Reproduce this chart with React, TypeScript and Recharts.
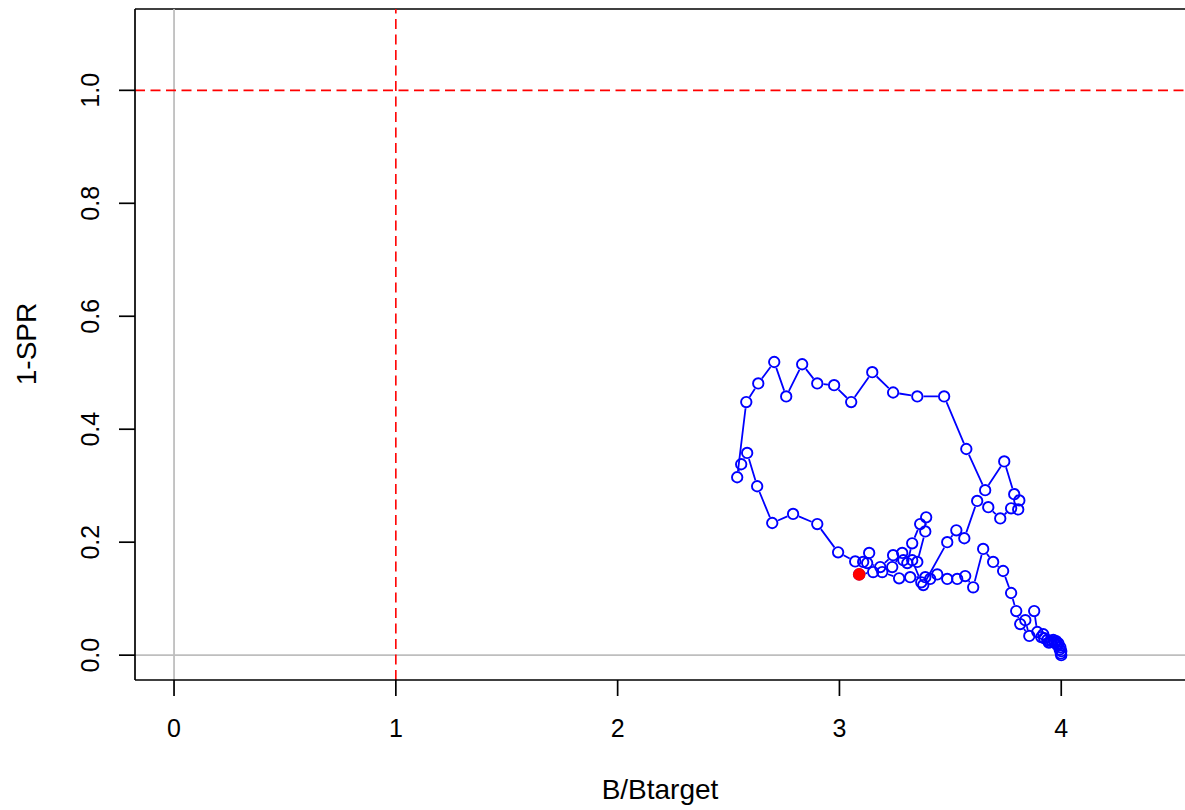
import React from "react";
import {
	ScatterChart,
	Scatter,
	XAxis,
	YAxis,
	ReferenceLine,
} from "recharts";

// trajectory in time order (last point is the red one)
const bRatio = [
	4.0, 4.0, 3.998, 3.996, 3.993, 3.987, 3.982, 3.977, 3.97, 3.964, 3.957, 3.95,
	3.944, 3.937, 3.923, 3.91, 3.919, 3.892, 3.878, 3.838, 3.856, 3.815, 3.797,
	3.774, 3.738, 3.693, 3.648, 3.603, 3.567, 3.531, 3.486, 3.441, 3.409, 3.378,
	3.486, 3.527, 3.563, 3.621, 3.671, 3.725, 3.774, 3.806, 3.811, 3.788, 3.743,
	3.657, 3.572, 3.472, 3.351, 3.242, 3.148, 3.053, 2.976, 2.9, 2.832, 2.76,
	2.706, 2.634, 2.58, 2.539, 2.557, 2.584, 2.629, 2.697, 2.791, 2.9, 2.994,
	3.071, 3.107, 3.134, 3.125, 3.184, 3.242, 3.238, 3.283, 3.288, 3.306, 3.328,
	3.364, 3.391, 3.387, 3.351, 3.328, 3.369, 3.387, 3.319, 3.269, 3.193, 3.152,
	3.089,
];
const oneMinusSpr = [
	0.0, 0.007, 0.003, 0.014, 0.01, 0.021, 0.018, 0.025, 0.022, 0.027, 0.025,
	0.023, 0.022, 0.027, 0.03, 0.032, 0.037, 0.041, 0.078, 0.062, 0.034, 0.055,
	0.078, 0.11, 0.149, 0.165, 0.188, 0.12, 0.14, 0.135, 0.135, 0.143, 0.135,
	0.124, 0.2, 0.221, 0.207, 0.273, 0.262, 0.242, 0.26, 0.258, 0.274, 0.285,
	0.343, 0.292, 0.365, 0.458, 0.458, 0.465, 0.501, 0.448, 0.478, 0.481, 0.515,
	0.458, 0.519, 0.481, 0.448, 0.315, 0.338, 0.358, 0.299, 0.234, 0.25, 0.232,
	0.182, 0.166, 0.165, 0.181, 0.163, 0.156, 0.177, 0.156, 0.181, 0.168, 0.163,
	0.198, 0.232, 0.244, 0.219, 0.165, 0.168, 0.129, 0.138, 0.138, 0.136, 0.147,
	0.147, 0.143,
];

const xTicks = [0, 1, 2, 3, 4];
const yTicks = [0, 0.2, 0.4, 0.6, 0.8, 1.0];
const xDomain = [-0.176, 4.576];
const yDomain = [-0.044, 1.144];

const points = bRatio.map((b, i) => ({ x: b, y: oneMinusSpr[i] }));
const lastPoint = [points[points.length - 1]];

const FONT = "'Liberation Sans', Arial, sans-serif";
const BLUE = "#0000FF";
const R = 5.2;

// R type="b": segments stop short of each circle
const GapLine = (props: any) => {
	const pts = props.points || [];
	const gap = R + 1;
	let d = "";
	for (let i = 0; i < pts.length - 1; i++) {
		const a = pts[i];
		const b = pts[i + 1];
		const dx = b.x - a.x;
		const dy = b.y - a.y;
		const len = Math.sqrt(dx * dx + dy * dy);
		if (len <= gap * 2) continue;
		const ux = dx / len;
		const uy = dy / len;
		d += `M${a.x + ux * gap},${a.y + uy * gap}L${b.x - ux * gap},${b.y - uy * gap}`;
	}
	return <path d={d} stroke={BLUE} strokeWidth={1.8} fill="none" />;
};

const OpenCircle = (props: any) => (
	<circle cx={props.cx} cy={props.cy} r={R} stroke={BLUE} strokeWidth={1.9} fill="none" />
);

const RedDot = (props: any) => (
	<circle cx={props.cx} cy={props.cy} r={6.3} fill="#FF0000" stroke="none" />
);

const XTick = (props: any) => (
	<text x={props.x} y={737} textAnchor="middle" fontFamily={FONT} fontSize={25} fill="#000">
		{props.payload.value}
	</text>
);

const YTick = (props: any) => (
	<text
		x={99}
		y={props.y}
		transform={`rotate(-90, 99, ${props.y})`}
		textAnchor="middle"
		fontFamily={FONT}
		fontSize={25}
		fill="#000"
	>
		{Number(props.payload.value).toFixed(1)}
	</text>
);

export default function App() {
	return (
		<div
			style={{
				position: "absolute",
				left: 0,
				top: 0,
				width: 1185,
				height: 810,
				overflow: "hidden",
				background: "#fff",
			}}
		>
			<ScatterChart
				width={1200}
				height={810}
				margin={{ top: 9, right: 11, bottom: 0, left: 0 }}
			>
				<XAxis
					type="number"
					dataKey="x"
					domain={xDomain}
					allowDataOverflow
					ticks={xTicks}
					tick={XTick}
					tickSize={16}
					height={130}
					axisLine={{ stroke: "#000", strokeWidth: 1.7 }}
					tickLine={{ stroke: "#000", strokeWidth: 1.7 }}
				/>
				<YAxis
					type="number"
					dataKey="y"
					domain={yDomain}
					allowDataOverflow
					ticks={yTicks}
					tick={YTick}
					tickSize={16}
					width={135}
					axisLine={{ stroke: "#000", strokeWidth: 1.7 }}
					tickLine={{ stroke: "#000", strokeWidth: 1.7 }}
				/>
				<ReferenceLine y={yDomain[1]} stroke="#000" strokeWidth={1.7} />
				<ReferenceLine x={0} stroke="#BEBEBE" strokeWidth={1.8} />
				<ReferenceLine y={0} stroke="#BEBEBE" strokeWidth={1.8} />
				<ReferenceLine x={1} stroke="#FF0000" strokeWidth={1.6} strokeDasharray="10 5.5" />
				<ReferenceLine y={1} stroke="#FF0000" strokeWidth={1.6} strokeDasharray="10 5.5" />
				<Scatter
					data={points}
					line={GapLine}
					lineType="joint"
					shape={OpenCircle}
					isAnimationActive={false}
				/>
				<Scatter data={lastPoint} shape={RedDot} isAnimationActive={false} />
				<text x={660} y={799} textAnchor="middle" fontFamily={FONT} fontSize={28} fill="#000">
					B/Btarget
				</text>
				<text
					x={36}
					y={344}
					transform="rotate(-90, 36, 344)"
					textAnchor="middle"
					fontFamily={FONT}
					fontSize={28}
					fill="#000"
				>
					1-SPR
				</text>
			</ScatterChart>
		</div>
	);
}
